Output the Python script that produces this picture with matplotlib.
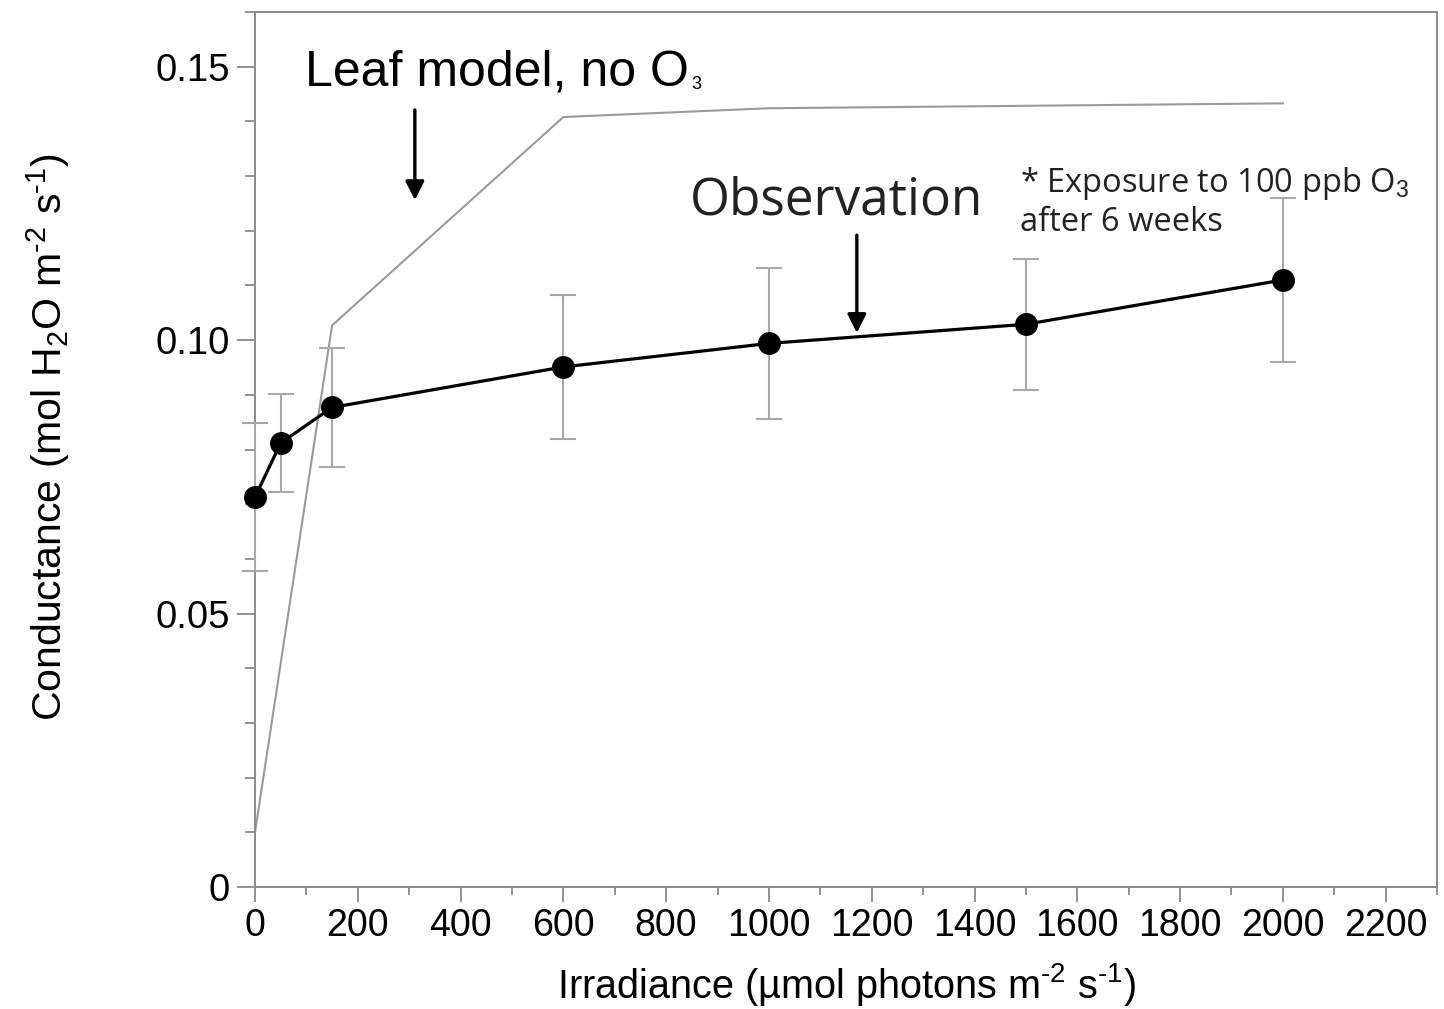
import matplotlib
matplotlib.use("Agg")
import matplotlib.pyplot as plt
from matplotlib.ticker import MultipleLocator, FixedLocator

plt.rcParams['font.family'] = ['Liberation Sans', 'DejaVu Sans']
plt.rcParams['mathtext.fontset'] = 'custom'
plt.rcParams['mathtext.rm'] = 'Liberation Sans'
plt.rcParams['mathtext.it'] = 'Liberation Sans'

# Observed stomatal conductance (mean and error) under 100 ppb O3
obs_irradiance = [0, 50, 150, 600, 1000, 1500, 2000]
obs_conductance = [0.0713, 0.0812, 0.0877, 0.0951, 0.0994, 0.1029, 0.1110]
obs_error = [0.0136, 0.0090, 0.0109, 0.0131, 0.0138, 0.0120, 0.0150]

# Leaf model prediction without ozone
model_irradiance = [0, 150, 600, 1000, 2000]
model_conductance = [0.0100, 0.1027, 0.1408, 0.1424, 0.1433]

x_ticks = [0, 200, 400, 600, 800, 1000, 1200, 1400, 1600, 1800, 2000, 2200]
y_ticks = [0, 0.05, 0.10, 0.15]
y_tick_labels = ['0', '0.05', '0.10', '0.15']

fig = plt.figure(figsize=(14.44, 10.09), dpi=100)
ax = fig.add_axes([0.1766, 0.1209, 0.8186, 0.8672])

spine_color = '#8a8a8a'
for s in ax.spines.values():
    s.set_color(spine_color)
    s.set_linewidth(1.4)

# Model curve
ax.plot(model_irradiance, model_conductance, color='#9a9a9a', lw=1.5, zorder=2)

# Observations with error bars
ax.errorbar(obs_irradiance, obs_conductance, yerr=obs_error, fmt='none',
            ecolor='#a8a8a8', elinewidth=1.5, capsize=9.2, capthick=1.5,
            zorder=3, clip_on=False)
ax.plot(obs_irradiance, obs_conductance, color='black', lw=2.3, marker='o',
        markersize=15.5, markerfacecolor='black', zorder=4, clip_on=False)

ax.set_xlim(0, 2300)
ax.set_ylim(0, 0.16)
ax.xaxis.set_major_locator(FixedLocator(x_ticks))
ax.xaxis.set_minor_locator(MultipleLocator(100))
ax.yaxis.set_major_locator(FixedLocator(y_ticks))
ax.set_yticklabels(y_tick_labels)
ax.yaxis.set_minor_locator(MultipleLocator(0.01))

ax.tick_params(axis='x', which='major', length=11, width=1.3, color=spine_color,
               labelsize=27, pad=4, direction='out')
ax.tick_params(axis='x', which='minor', length=5.5, width=1.3, color=spine_color,
               direction='out')
ax.tick_params(axis='y', which='major', length=13, width=1.3, color=spine_color,
               labelsize=27.5, pad=5, direction='out')
ax.tick_params(axis='y', which='minor', length=7, width=1.3, color=spine_color,
               direction='out')

ax.set_xlabel(r'Irradiance (µmol photons m$^{\mathregular{‐2}}$ s$^{\mathregular{‐1}}$)',
              fontsize=28.5, labelpad=12)
ax.set_ylabel(r'Conductance (mol H$_{\mathregular{2}}$O m$^{\mathregular{‐2}}$ s$^{\mathregular{‐1}}$)',
              fontsize=29.5)
ax.yaxis.set_label_coords(-0.155, 0.514)

# Model label with a small subscript
leaf = ax.text(97, 0.1465, 'Leaf model, no O', fontsize=36, ha='left', va='baseline')
ax.annotate('', xy=(311, 0.1256), xytext=(311, 0.1421),
            arrowprops=dict(arrowstyle='-|>', lw=2.4, color='black',
                            mutation_scale=28, shrinkA=0, shrinkB=0))

ax.text(846, 0.1229, 'Observation', fontsize=37, family=['Open Sans', 'DejaVu Sans'],
        color='#222222', ha='left', va='baseline')
ax.annotate('', xy=(1171, 0.1013), xytext=(1171, 0.1192),
            arrowprops=dict(arrowstyle='-|>', lw=2.4, color='black',
                            mutation_scale=28, shrinkA=0, shrinkB=0))

ax.text(1488, 0.1270, r'* Exposure to 100 ppb O$_{3}$', fontsize=23.5,
        family=['Open Sans', 'DejaVu Sans'], color='#222222', ha='left', va='baseline')
ax.text(1488, 0.1200, 'after 6 weeks', fontsize=23.5,
        family=['Open Sans', 'DejaVu Sans'], color='#222222', ha='left', va='baseline')

fig.canvas.draw()
bb = leaf.get_window_extent(renderer=fig.canvas.get_renderer())
ax.annotate('3', xy=(bb.x1 + 3, bb.y0 + 3), xycoords='figure pixels',
            fontsize=13, ha='left', va='bottom')

fig.savefig('out.png', dpi=100)
